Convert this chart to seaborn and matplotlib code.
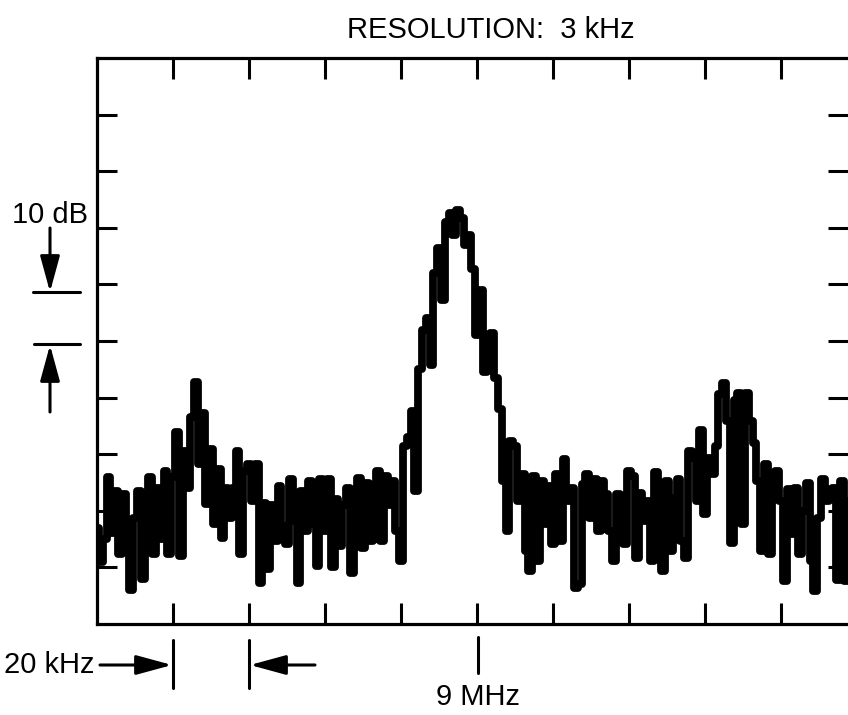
import numpy as np
import pandas as pd
import matplotlib
matplotlib.use("Agg")
import matplotlib.pyplot as plt
import seaborn as sns
from matplotlib.lines import Line2D

# ---------------- data ----------------
# frequency offset from 9 MHz (kHz), one sample per kHz
freq_khz = np.arange(-100, 101, 1)
level_db = [
    -83, -89, -85, -74, -84, -76.5, -87.6, -77, -81.8, -94,
    -81.3, -76.5, -92, -79, -74, -87.6, -76, -85, -73, -87.6,
    -74, -66, -88, -69.4, -76, -63.5, -57.3, -71.7, -62.8, -78.8,
    -69, -82.3, -72.6, -84.8, -76, -81.2, -76, -69.4, -87.6, -72.9,
    -71.7, -78.2, -71.7, -92.7, -78.6, -90.3, -79, -85.3, -75.6, -82.7,
    -85.8, -74.3, -81.8, -92.7, -76.5, -83.5, -74.7, -82.3, -89.7, -74.3,
    -83.5, -74.3, -90, -77.9, -86.2, -79, -76, -91, -80.5, -74.2,
    -86.5, -75, -85.3, -76.5, -72.9, -85.3, -73.8, -79, -74.7, -83.5,
    -88.8, -68.5, -67, -62.3, -76.5, -54.9, -48.1, -46, -54.3, -37.9,
    -33.6, -42.8, -29, -27.3, -31.3, -26.9, -28.3, -33.1, -31.3, -37.2,
    -49, -41, -55.4, -49, -48.5, -56.5, -62, -74.7, -83.5, -67.6,
    -68.5, -78.2, -73.5, -87.1, -90.6, -73.8, -88.8, -74.7, -82.3, -75.6,
    -85.8, -73.5, -85.3, -70.8, -78.2, -75.9, -93.6, -93, -75.2, -73.5,
    -81.2, -74.3, -83.5, -74.7, -77, -83.5, -88.8, -77, -81.8, -85.8,
    -72.9, -73.8, -88.3, -76.8, -81.8, -78.2, -88.8, -73.2, -83.5, -90.6,
    -74.7, -87.1, -77.7, -74.3, -85.3, -88.3, -69.4, -70.6, -78.2, -65.8,
    -80.5, -70.6, -73.5, -68.5, -59.3, -57.5, -64.1, -85.7, -60.5, -59.1,
    -82.3, -59.1, -64.1, -68, -74.7, -87.1, -71.7, -87.6, -76.1, -72.9,
    -78.2, -92.4, -76.1, -84.1, -75.9, -87.6, -80, -75, -88.8, -94.2,
    -81.2, -74.3, -78.2, -76.5, -75.9, -92.2, -74.7, -92.4, -78.2, -76.5,
    -81.8,
]
x_ticks_khz = [-80, -60, -40, -20, 0, 20, 40, 60, 80]
y_ticks_db = [-90, -80, -70, -60, -50, -40, -30, -20, -10]
x_range = (-100, 100)
y_range = (-100, 0)

title_text = "RESOLUTION:  3 kHz"
db_label = "10 dB"
khz_label = "20 kHz"
center_label = "9 MHz"

# ---------------- style ----------------
sns.set_style("white")
plt.rcParams["font.family"] = ["Liberation Sans", "DejaVu Sans"]
plt.rcParams["text.color"] = "black"

W, H = 848, 715
fig = plt.figure(figsize=(W / 100, H / 100), dpi=100)
ax = fig.add_axes([97 / W, 1 - 624 / H, 760 / W, 566 / H])

df = pd.DataFrame({"freq": freq_khz, "level": level_db})
sns.lineplot(data=df, x="freq", y="level", estimator=None, drawstyle="steps-mid",
             color="black", linewidth=5.6, ax=ax)

ax.set_xlim(*x_range)
ax.set_ylim(*y_range)
ax.set_xticks(x_ticks_khz)
ax.set_yticks(y_ticks_db)
ax.set_xlabel("")
ax.set_ylabel("")
ax.tick_params(axis="x", direction="in", top=True, bottom=True, length=15, width=2.2,
               labelbottom=False, labeltop=False, color="black")
ax.tick_params(axis="y", direction="in", left=True, right=False, length=14.5, width=2.2,
               labelleft=False, color="black")
for s in ax.spines.values():
    s.set_color("black")
    s.set_linewidth(2.3)

ax2 = ax.twinx()
ax2.set_ylim(*y_range)
ax2.set_yticks(y_ticks_db)
ax2.tick_params(axis="y", direction="in", right=True, left=False, length=21, width=2.2,
                labelright=False, color="black")
for s in ax2.spines.values():
    s.set_visible(False)

# ---------------- annotations ----------------
def fp(x, y):
    return (x, H - y)

arrow_kw = dict(arrowstyle="-|>,head_length=2.2,head_width=0.6", color="black",
                lw=2.2, shrinkA=0, shrinkB=0, mutation_scale=10)

def arrow(tail, tip):
    ax.annotate("", xy=fp(*tip), xytext=fp(*tail), xycoords="figure pixels",
                textcoords="figure pixels", arrowprops=arrow_kw, annotation_clip=False)

def seg(x0, y0, x1, y1):
    fig.add_artist(Line2D([x0 / W, x1 / W], [1 - y0 / H, 1 - y1 / H],
                          transform=fig.transFigure, color="black", lw=2.2))

fig.text(491 / W, 1 - 30 / H, title_text, ha="center", va="center", fontsize=21,
         color="black")

fig.text(88 / W, 1 - 215 / H, db_label, ha="right", va="center", fontsize=21, color="black")
arrow((50, 228), (50, 292))
seg(33, 292, 80, 292)
seg(34, 344, 80, 344)
arrow((50, 412), (50, 345))

fig.text(95 / W, 1 - 665 / H, khz_label, ha="right", va="center", fontsize=21, color="black")
arrow((100, 665), (172, 665))
seg(173, 640, 173, 688)
seg(249, 640, 249, 688)
arrow((315, 665), (250, 665))

seg(478, 637, 478, 673)
fig.text(478 / W, 1 - 697 / H, center_label, ha="center", va="center", fontsize=21,
         color="black")

fig.savefig("out.png", dpi=100, facecolor="white")
